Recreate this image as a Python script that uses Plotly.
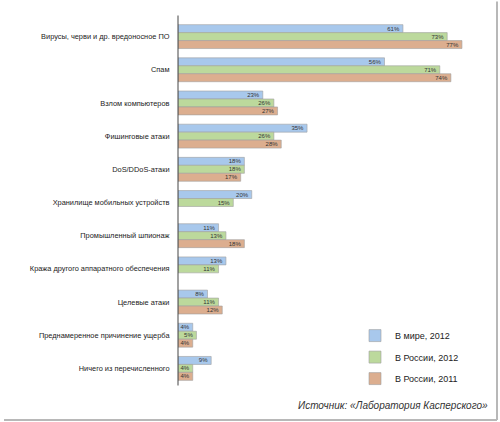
import plotly.graph_objects as go

categories = [
    'Вирусы, черви и др. вредоносное ПО',
    'Спам',
    'Взлом компьютеров',
    'Фишинговые атаки',
    'DoS/DDoS-атаки',
    'Хранилище мобильных устройств',
    'Промышленный шпионаж',
    'Кража другого аппаратного обеспечения',
    'Целевые атаки',
    'Преднамеренное причинение ущерба',
    'Ничего из перечисленного',
]
world_2012 = [61, 56, 23, 35, 18, 20, 11, 13, 8, 4, 9]
russia_2012 = [73, 71, 26, 26, 18, 15, 13, 11, 11, 5, 4]
russia_2011 = [77, 74, 27, 28, 17, None, 18, None, 12, 4, 4]

series_names = ['В мире, 2012', 'В России, 2012', 'В России, 2011']
series_colors = ['#a8c8ec', '#bcd99c', '#dcae8f']

FONT = 'Liberation Sans, Arial, sans-serif'

W, H = 500, 422
# plot area in page pixels
L, R, T, B = 178, 473, 19.5, 385


def px(x):
    return (x - L) / (R - L)


def py(y):
    return (B - y) / (B - T)


fig = go.Figure()
for i, (name, vals, color) in enumerate(zip(series_names,
                                            [world_2012, russia_2012, russia_2011],
                                            series_colors)):
    fig.add_trace(go.Bar(
        y=categories,
        x=vals,
        name=name,
        orientation='h',
        legendgroup=str(i),
        marker=dict(color=color, line=dict(color='#a0a0a0', width=0.6)),
        text=[f'{v}%' if v is not None else '' for v in vals],
        textposition='inside',
        insidetextanchor='end',
        textangle=0,
        textfont=dict(family=FONT, size=6, color='#333333'),
        hoverinfo='x+y+name',
    ))

fig.update_layout(
    width=W,
    height=H,
    margin=dict(l=L, r=W - R, t=T, b=H - B, pad=0, autoexpand=False),
    paper_bgcolor='white',
    plot_bgcolor='white',
    barmode='group',
    bargap=0.28,
    bargroupgap=0,
    uniformtext=dict(minsize=6, mode='show'),
    font=dict(family=FONT, size=8, color='#222222'),
    xaxis=dict(range=[0, 80], visible=False),
    yaxis=dict(
        autorange='reversed',
        automargin=False,
        showline=False,
        ticks='outside',
        ticklen=6,
        tickcolor='rgba(0,0,0,0)',
        showgrid=False,
        tickfont=dict(family=FONT, size=7.4, color='#222222'),
    ),
    showlegend=True,
    legend=dict(
        x=px(355), y=py(321), xanchor='left', yanchor='top',
        traceorder='grouped', tracegroupgap=2.5,
        font=dict(family=FONT, size=9, color='#222222'),
        bgcolor='rgba(0,0,0,0)',
        itemwidth=30,
    ),
    annotations=[dict(
        text='Источник: «Лаборатория Касперского»',
        x=px(490), y=py(406), xref='paper', yref='paper',
        xanchor='right', yanchor='middle', showarrow=False,
        font=dict(family=FONT, size=10, color='#333333', style='italic'),
    )],
    shapes=[
        # category axis line, a little taller than the plot area
        dict(type='line', xref='paper', yref='paper', layer='above',
             x0=0, x1=0, y0=py(15), y1=py(385.5),
             line=dict(color='#444444', width=1)),
        # frame shadow on the right and bottom
        dict(type='line', xref='paper', yref='paper', layer='above',
             x0=px(497), x1=px(497), y0=py(1), y1=py(420),
             line=dict(color='#b8b8b8', width=2)),
        dict(type='line', xref='paper', yref='paper', layer='above',
             x0=px(4), x1=px(497), y0=py(420), y1=py(420),
             line=dict(color='#b8b8b8', width=2)),
    ],
)

fig.write_html('out.html', config={'displayModeBar': False},
               post_script="document.body.style.margin='0';")
